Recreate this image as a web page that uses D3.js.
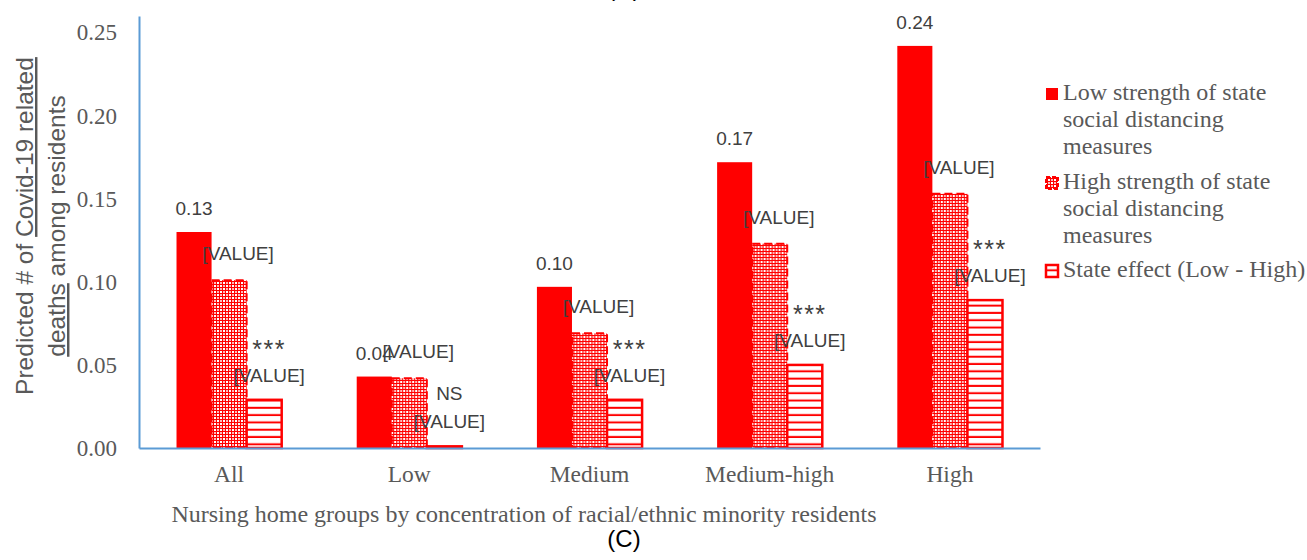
<!DOCTYPE html>
<html>
<head>
<meta charset="utf-8">
<script src="https://cdn.jsdelivr.net/npm/d3@7"></script>
<style>
  body { margin: 0; background: #fff; }
</style>
</head>
<body>
<div id="chart"></div>
<script>
let categories = ["All", "Low", "Medium", "Medium-high", "High"];
let lowStrength = [0.13, 0.043, 0.097, 0.172, 0.242];
let highStrength = [0.101, 0.042, 0.069, 0.123, 0.153];
let stateEffect = [0.029, 0.001, 0.029, 0.05, 0.089];
let lowLabels = ["0.13", "0.04", "0.10", "0.17", "0.24"];
let highLabels = ["[VALUE]", "[VALUE]", "[VALUE]", "[VALUE]", "[VALUE]"];
let effectStars = ["***", "NS", "***", "***", "***"];
let effectLabels = ["[VALUE]", "[VALUE]", "[VALUE]", "[VALUE]", "[VALUE]"];
let yTicks = [0, 0.05, 0.1, 0.15, 0.2, 0.25];
let seriesKeys = ["low", "high", "effect"];
let legendLines = [
  ["Low strength of state", "social distancing", "measures"],
  ["High strength of state", "social distancing", "measures"],
  ["State effect (Low - High)"],
];

function drawChart() {
  let width = 1307;
  let height = 560;
  let red = "#ff0000";
  let axisBlue = "#5b9bd5";
  let serif = "'Liberation Serif', 'Times New Roman', serif";
  let sans = "'Liberation Sans', Arial, sans-serif";

  let svg = d3
    .select("#chart")
    .append("svg")
    .attr("width", width)
    .attr("height", height);

  // fill patterns like the excel ones
  let defs = svg.append("defs");
  let confetti = defs
    .append("pattern")
    .attr("id", "confetti")
    .attr("patternUnits", "userSpaceOnUse")
    .attr("width", 6)
    .attr("height", 6);
  confetti.append("rect").attr("width", 6).attr("height", 6).attr("fill", red);
  confetti.append("rect").attr("x", 0).attr("y", 0).attr("width", 2).attr("height", 2).attr("fill", "#fff");
  confetti.append("rect").attr("x", 3).attr("y", 3).attr("width", 2).attr("height", 2).attr("fill", "#fff");
  confetti.append("rect").attr("x", 3).attr("y", 0).attr("width", 2).attr("height", 2).attr("fill", "#ffb8b8");
  confetti.append("rect").attr("x", 0).attr("y", 3).attr("width", 2).attr("height", 2).attr("fill", "#ffb8b8");

  let stripes = defs
    .append("pattern")
    .attr("id", "stripes")
    .attr("patternUnits", "userSpaceOnUse")
    .attr("width", 8)
    .attr("height", 7.3);
  stripes.append("rect").attr("width", 8).attr("height", 7.3).attr("fill", "#fff");
  stripes.append("rect").attr("y", 5.3).attr("width", 8).attr("height", 2).attr("fill", red);

  let fills = { low: red, high: "url(#confetti)", effect: "url(#stripes)" };

  let x0 = d3.scaleBand().domain(categories).range([139, 1040]);
  let x1 = d3
    .scaleBand()
    .domain(seriesKeys)
    .range([0, x0.bandwidth()])
    .paddingInner(0)
    .paddingOuter(1.07);
  let y = d3.scaleLinear().domain([0, 0.26]).range([448, 16]);

  let rows = categories.map(function (c, i) {
    return {
      cat: c,
      values: [
        { key: "low", v: lowStrength[i], label: [lowLabels[i]], dx: 0 },
        { key: "high", v: highStrength[i], label: [highLabels[i]], dx: 9 },
        { key: "effect", v: stateEffect[i], label: [effectStars[i], effectLabels[i]], dx: 5 },
      ],
    };
  });

  let groups = svg
    .selectAll(".group")
    .data(rows)
    .enter()
    .append("g")
    .attr("class", "group")
    .attr("transform", (d) => "translate(" + x0(d.cat) + ",0)");

  groups
    .selectAll("rect")
    .data((d) => d.values)
    .enter()
    .append("rect")
    .attr("x", (d) => x1(d.key))
    .attr("y", (d) => y(d.v))
    .attr("width", x1.bandwidth())
    .attr("height", (d) => y(0) - y(d.v))
    .attr("fill", (d) => fills[d.key])
    .attr("stroke", (d) => (d.key == "low" ? "none" : red))
    .attr("stroke-width", (d) => (d.key == "effect" ? 2.5 : 2))
    .attr("stroke-dasharray", (d) => (d.key == "high" ? "8,4" : null));

  // data labels
  let labels = groups
    .selectAll(".lbl")
    .data((d) => d.values)
    .enter()
    .append("text")
    .attr("class", "lbl")
    .attr("text-anchor", "middle")
    .attr("font-family", sans)
    .attr("font-size", "19px")
    .attr("fill", "#404040");

  labels
    .selectAll("tspan")
    .data(function (d) {
      let n = d.label.length;
      return d.label.map(function (t, j) {
        return {
          t: t,
          stars: t == "***",
          x: x1(d.key) + x1.bandwidth() / 2 + d.dx,
          y: y(d.v) - (d.key == "low" ? 17 : d.key == "high" ? 20 : 18) - (n - 1 - j) * 28,
        };
      });
    })
    .enter()
    .append("tspan")
    .attr("x", (d) => d.x)
    .attr("y", (d) => (d.stars ? d.y + 4 : d.y))
    .attr("font-size", (d) => (d.stars ? "25px" : null))
    .attr("letter-spacing", (d) => (d.stars ? "1.5px" : null))
    .text((d) => d.t);

  // axes
  let yAxis = d3
    .axisLeft(y)
    .tickValues(yTicks)
    .tickFormat(d3.format(".2f"))
    .tickSize(0)
    .tickPadding(22);

  let yg = svg.append("g").attr("transform", "translate(139,0)").call(yAxis);
  yg.select(".domain").attr("stroke", axisBlue).attr("stroke-width", 2);
  yg.selectAll("text")
    .attr("font-family", serif)
    .attr("font-size", "23px")
    .attr("fill", "#595959");

  let xAxis = d3.axisBottom(x0).tickSize(0).tickSizeOuter(0);
  let xg = svg.append("g").attr("transform", "translate(0,448)").call(xAxis);
  xg.select(".domain").attr("stroke", axisBlue).attr("stroke-width", 2);
  xg.selectAll("text")
    .attr("y", 34)
    .attr("dy", null)
    .attr("font-family", serif)
    .attr("font-size", "23.5px")
    .attr("fill", "#595959");

  // axis titles
  svg
    .append("text")
    .attr("x", 524)
    .attr("y", 522)
    .attr("text-anchor", "middle")
    .attr("font-family", serif)
    .attr("font-size", "24px")
    .attr("fill", "#595959")
    .text("Nursing home groups by concentration of racial/ethnic minority residents");

  let yTitle1 = svg
    .append("text")
    .attr("transform", "translate(33,226) rotate(-90)")
    .attr("text-anchor", "middle")
    .attr("font-family", sans)
    .attr("font-size", "24.5px")
    .attr("fill", "#595959");
  yTitle1.append("tspan").text("Predicted # of ");
  yTitle1.append("tspan").attr("text-decoration", "underline").text("Covid-19 related");

  let yTitle2 = svg
    .append("text")
    .attr("transform", "translate(65,226) rotate(-90)")
    .attr("text-anchor", "middle")
    .attr("font-family", sans)
    .attr("font-size", "24.5px")
    .attr("fill", "#595959");
  yTitle2.append("tspan").attr("text-decoration", "underline").text("deaths");
  yTitle2.append("tspan").text(" among residents");

  // panel letters (the top one is the previous panel's, cut by the crop)
  svg
    .append("text")
    .attr("x", 624)
    .attr("y", 547)
    .attr("text-anchor", "middle")
    .attr("font-family", sans)
    .attr("font-size", "24px")
    .attr("fill", "#000")
    .text("(C)");
  svg
    .append("text")
    .attr("x", 624)
    .attr("y", -4)
    .attr("text-anchor", "middle")
    .attr("font-family", sans)
    .attr("font-size", "24px")
    .attr("fill", "#000")
    .text("(C)");

  // legend
  let legendTop = [87, 176, 264];
  let legend = svg.append("g").attr("id", "legend");
  let items = legend
    .selectAll("g")
    .data(seriesKeys)
    .enter()
    .append("g")
    .attr("transform", (d, i) => "translate(1045," + legendTop[i] + ")");

  items
    .append("rect")
    .attr("x", 1)
    .attr("y", 1)
    .attr("width", 12)
    .attr("height", 12)
    .attr("fill", (d) => fills[d])
    .attr("stroke", (d) => (d == "low" ? "none" : red))
    .attr("stroke-width", (d) => (d == "effect" ? 2.5 : 2))
    .attr("stroke-dasharray", (d) => (d == "high" ? "4,2" : null));

  items
    .append("text")
    .attr("font-family", serif)
    .attr("font-size", "24px")
    .attr("fill", "#595959")
    .selectAll("tspan")
    .data((d, i) => legendLines[i])
    .enter()
    .append("tspan")
    .attr("x", 18)
    .attr("y", (d, j) => 13 + j * 27)
    .text((d) => d);
}

drawChart();
</script>
</body>
</html>
